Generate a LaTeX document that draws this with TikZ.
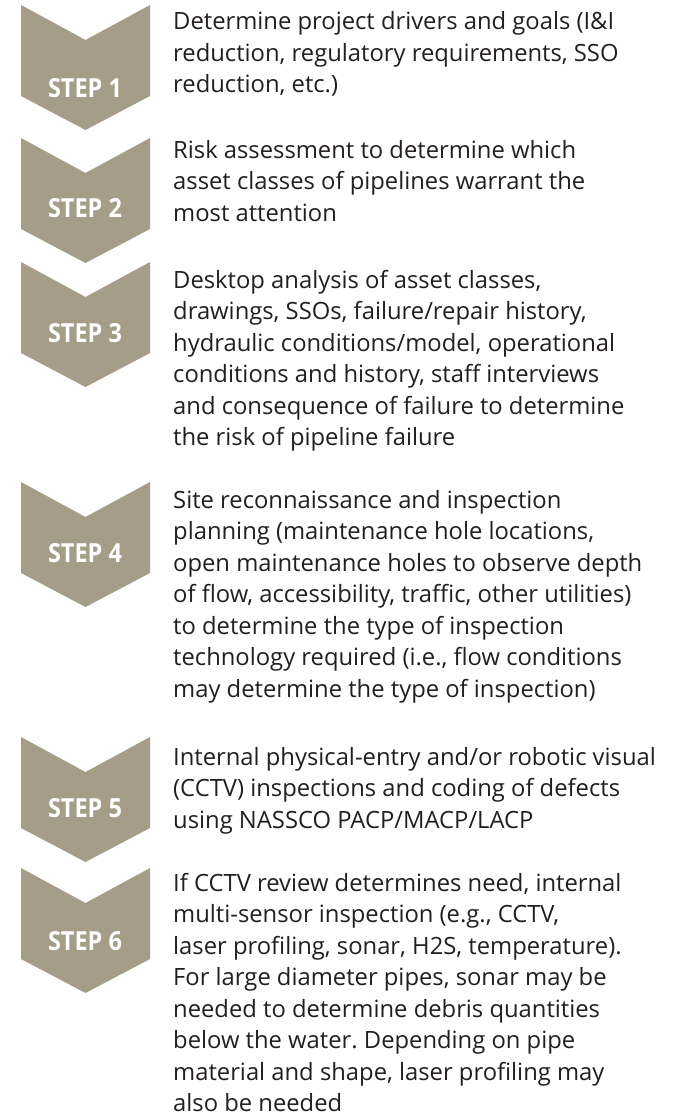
\documentclass[tikz,border=0pt]{standalone}
\usepackage{fontspec}
\setmainfont{Open Sans}
\usepackage{graphicx}
\definecolor{chev}{RGB}{166,157,137}
\definecolor{ink}{RGB}{35,31,32}
\newlength\refA
\newlength\refB
\newcommand\mychev[1]{\fill[chevron] (21,#1) -- (85.5,#1+35) -- (150,#1) -- (150,#1+91) -- (85.5,#1+125) -- (21,#1+91) -- cycle;}
\newcommand\steptxt[1]{\resizebox{74pt}{19pt}{\bfseries STEP~#1}}
\tikzset{
  chevron/.style={fill=chev, draw=none},
  steplabel/.style={text=white, inner sep=0, anchor=center},
  desc/.style={anchor=base west, inner sep=0, text=ink, align=left}
}
\frenchspacing
\begin{document}
\frenchspacing
\settowidth\refA{\fontsize{20pt}{24pt}\selectfont of flow, accessibility, traffic, other utilities)}
\settowidth\refB{\fontsize{20pt}{24pt}\selectfont Internal physical-entry and/or robotic visual}
\pgfmathsetmacro\fs{(20*457/\refA + 20*484/\refB)/2}
\newcommand\blk[1]{\fontsize{\fs pt}{31.5pt}\selectfont\frenchspacing\begin{tabular}[t]{@{}l@{}}#1\end{tabular}}
\begin{tikzpicture}[x=1pt, y=-1pt]
\useasboundingbox (0,0) rectangle (677,1116);
\fill[white] (0,0) rectangle (677,1116);
\mychev{5}
\mychev{138}
\mychev{262}
\mychev{482}
\mychev{737}
\mychev{868}
\node[steplabel] (s1) at (85,88) {\steptxt{1}};
\node[steplabel] (s2) at (85,208) {\steptxt{2}};
\node[steplabel] (s3) at (85,333) {\steptxt{3}};
\node[steplabel] (s4) at (85,553) {\steptxt{4}};
\node[steplabel] (s5) at (85,808) {\steptxt{5}};
\node[steplabel] (s6) at (85,941) {\steptxt{6}};
\node[desc] (t1) at (173,30) {\blk{Determine project drivers and goals (I\&I\\reduction, regulatory requirements, SSO\\reduction, etc.)}};
\node[desc] (t2) at (173,158) {\blk{Risk assessment to determine which\\asset classes of pipelines warrant the\\most attention}};
\node[desc] (t3) at (173,288) {\blk{Desktop analysis of asset classes,\\drawings, SSOs, failure/repair history,\\hydraulic conditions/model, operational\\conditions and history, staff interviews\\and consequence of failure to determine\\the risk of pipeline failure}};
\node[desc] (t4) at (173,508) {\blk{Site reconnaissance and inspection\\planning (maintenance hole locations,\\open maintenance holes to observe depth\\of flow, accessibility, traffic, other utilities)\\to determine the type of inspection\\technology required (i.e., flow conditions\\may determine the type of inspection)}};
\node[desc] (t5) at (173,765) {\blk{Internal physical-entry and/or robotic visual\\(CCTV) inspections and coding of defects\\using NASSCO PACP/MACP/LACP}};
\node[desc] (t6) at (173,891) {\blk{If CCTV review determines need, internal\\multi-sensor inspection (e.g., CCTV,\\laser profiling, sonar, H2S, temperature).\\For large diameter pipes, sonar may be\\needed to determine debris quantities\\below the water. Depending on pipe\\material and shape, laser profiling may\\also be needed}};
\end{tikzpicture}
\end{document}
